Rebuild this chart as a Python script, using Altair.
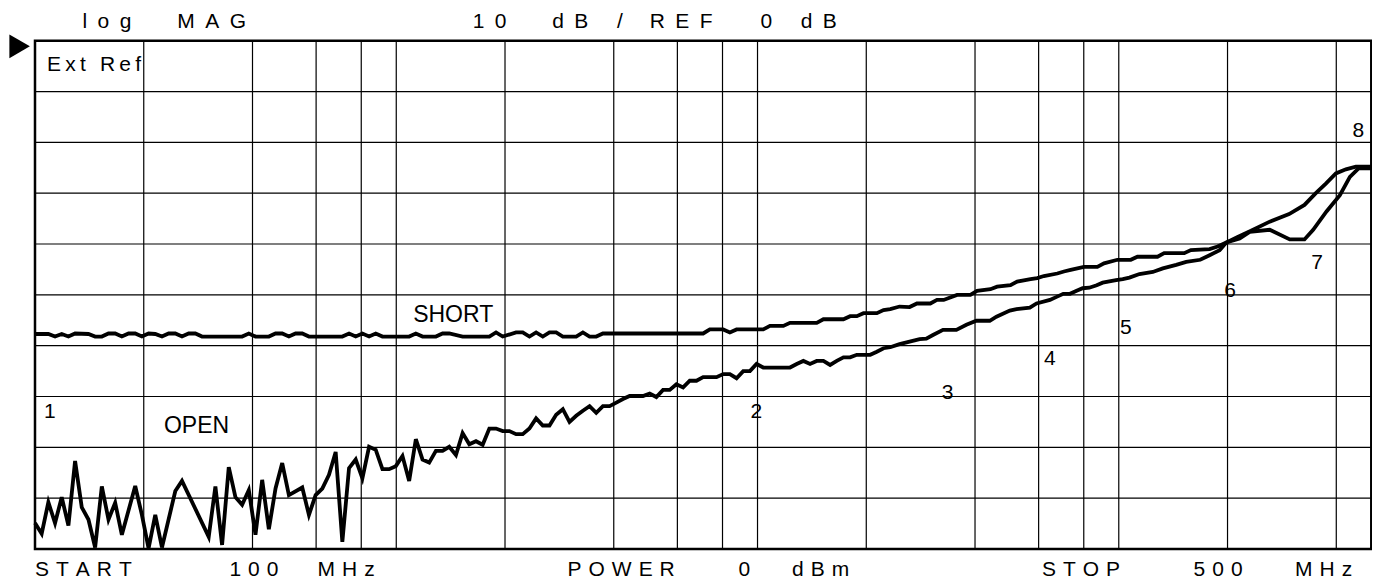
import altair as alt
import pandas as pd

# ---------------- data (sweep point index 0..200, magnitude in dB) ----------------
OPEN_IDX = [0, 1, 2, 3, 4, 5, 6, 7, 8, 9, 10, 11, 12, 13, 15, 16, 17, 18, 19, 21, 22, 26, 27, 28, 29,
            30, 31, 32, 33, 34, 35, 36, 37, 38, 40, 41, 42, 43, 44, 45, 46, 47, 48, 49, 50, 51, 52, 53,
            54, 55, 56, 57, 58, 59, 60, 61, 62, 63, 64, 65, 66, 67, 68, 69, 70, 71, 72, 73, 74, 75, 76,
            77, 78, 79, 80, 81, 82, 83, 84, 85, 86, 87, 88, 89, 90, 91, 92, 93, 94, 95, 96, 97, 98, 99,
            100, 102, 103, 104, 105, 106, 107, 108, 109, 113, 114, 115, 116, 117, 118, 119, 120, 121,
            122, 123, 125, 126, 127, 128, 129.4, 130.9, 132.4, 133.4, 134.4, 135.9, 137.9, 139.4, 140.9,
            142.9, 143.9, 145.9, 146.9, 148.9, 149.9, 151.9, 152.9, 153.9, 154.9, 155.9, 156.8, 157.8,
            158.9, 159.8, 161.8, 162.8, 163.8, 165.3, 167.3, 168.8, 170.8, 172.3, 174.4, 175.8, 177.3,
            178.3, 180.0, 182.0, 184.8, 187.7, 190.0, 191.7, 193.2, 194.7, 196.2, 197.7, 200]
OPEN_DB = [-94.9, -97.0, -90.8, -94.9, -89.8, -95.4, -82.7, -91.8, -94.2, -99.7, -87.7, -94.2, -90.9,
           -97.2, -87.6, -93.3, -99.9, -93.3, -99.7, -88.6, -86.6, -97.6, -87.7, -99.2, -83.9, -89.8,
           -91.3, -88.4, -97.2, -86.4, -96.1, -88.1, -83.1, -89.4, -87.9, -93.3, -89.4, -88.1, -85.4,
           -80.9, -98.6, -84.1, -82.4, -86.1, -79.9, -80.5, -84.3, -84.3, -83.7, -81.7, -86.6, -78.4,
           -82.4, -83.0, -80.7, -80.7, -79.9, -81.5, -77.2, -79.4, -78.8, -79.5, -76.3, -76.3, -76.8,
           -76.8, -77.4, -77.4, -76.3, -74.3, -75.7, -75.7, -73.6, -72.5, -75.0, -73.8, -72.8, -71.9,
           -73.2, -71.9, -71.9, -71.2, -70.5, -69.9, -69.9, -69.9, -69.4, -70.1, -68.7, -68.7, -67.6,
           -68.2, -66.9, -66.9, -66.2, -66.2, -65.6, -65.6, -66.4, -65.0, -65.0, -63.6, -64.3, -64.3,
           -63.6, -63.0, -63.6, -63.0, -63.0, -63.8, -63.0, -62.3, -62.3, -61.8, -61.8, -61.2, -60.5,
           -60.3, -59.7, -59.2, -58.7, -58.6, -57.9, -56.9, -56.9, -55.9, -55.1, -55.1, -54.3, -53.1,
           -52.8, -52.5, -51.7, -51.0, -50.4, -49.8, -49.8, -49.2, -48.7, -48.6, -48.1, -47.6, -47.1,
           -46.9, -46.6, -45.9, -45.5, -44.8, -44.1, -43.5, -43.1, -42.2, -41.2, -39.7, -38.6, -37.4,
           -35.6, -34.1, -32.3, -30.0, -28.1, -26.1, -25.3, -24.8, -24.8]

SHORT_IDX = [0, 2, 3, 4, 5, 6, 8, 9, 10, 11, 12, 13, 14, 15, 16, 17, 18, 19, 20, 21, 22, 23, 24, 25,
             31, 32, 33, 35, 36, 37, 38, 39, 40, 41, 46, 47, 48, 49, 50, 51, 52, 56, 57, 58, 60, 61,
             62, 64, 68, 69, 70, 72, 73, 74, 75, 76, 77, 78, 79, 81, 82, 83, 84, 85, 100, 101, 103,
             104, 105, 109, 110, 112, 113, 117, 118, 121, 122, 123, 124, 126, 127, 128, 129.4, 130.9,
             132, 134, 135, 136, 138, 140, 141, 143, 144, 146, 147, 149, 150, 151, 153, 154, 155, 157,
             159, 160, 162, 164, 165, 168, 169, 172, 173, 175.8, 177, 178.3, 180.3, 181.8, 184.8,
             187.8, 190, 191.3, 193.3, 195.3, 196.8, 198.1, 200]
SHORT_DB = [-57.7, -57.7, -58.2, -57.7, -58.2, -57.6, -57.7, -58.2, -58.2, -57.6, -57.6, -58.2, -57.6,
            -57.6, -58.2, -57.6, -57.7, -58.2, -57.6, -57.6, -58.2, -57.6, -57.6, -58.2, -58.2, -57.6,
            -58.2, -58.2, -57.6, -57.6, -58.2, -57.6, -57.6, -58.2, -58.2, -57.6, -58.2, -57.6, -58.2,
            -57.6, -58.2, -58.2, -57.6, -58.2, -58.2, -57.6, -57.6, -58.2, -58.2, -57.4, -58.2, -57.4,
            -57.4, -58.2, -57.4, -58.2, -57.4, -57.4, -58.2, -58.2, -57.4, -58.2, -58.2, -57.6, -57.6,
            -56.8, -56.8, -57.4, -56.8, -56.8, -56.1, -56.1, -55.5, -55.5, -54.8, -54.8, -54.2, -54.2,
            -53.6, -53.6, -53.0, -52.8, -52.3, -52.4, -51.7, -51.7, -51.0, -51.0, -50.0, -50.0, -49.2,
            -48.9, -48.4, -48.1, -47.4, -46.9, -46.7, -46.3, -45.8, -45.4, -45.1, -44.5, -44.5, -43.8,
            -43.1, -43.1, -42.5, -42.5, -41.8, -41.8, -41.2, -41.0, -40.5, -39.7, -38.9, -37.6, -37.2,
            -39.1, -39.1, -37.2, -33.6, -30.4, -26.8, -25.1, -25.1]

# grid: log frequency divisions and 10 dB/div
GRID_FREQ = [2, 4, 6, 8, 10, 20, 40, 60, 80, 100, 200, 400, 600, 800, 1000, 2000, 4000]
GRID_DB = [-10, -20, -30, -40, -50, -60, -70, -80, -90]

# annotations (x in sweep points, y in dB)
EN, TPE, THIN = "\u2002", "\u2004", "\u2009"
HEADER_TEXT = ["l" + EN + "o" + EN + "g", "M" + EN + "A" + EN + "G", "1" + EN + "0", "d" + EN + "B",
               "/", "R" + EN + "E" + EN + "F", "0", "d" + EN + "B"]
HEADER_X = [7.1, 21.3, 65.5, 77.4, 87.1, 92.0, 108.6, 114.6]
FOOTER_TEXT = [TPE.join("START"), TPE.join("100"), TPE.join("MHz"), TPE.join("POWER"), "0",
               TPE.join("dBm"), TPE.join("STOP"), TPE.join("500"), TPE.join("MHz")]
FOOTER_X = [0.0, 29.1, 42.3, 79.7, 105.3, 113.3, 150.7, 173.4, 188.6]
LABEL_TEXT = [THIN.join("Ext") + THIN + " " + THIN + THIN.join("Ref"), "OPEN", "SHORT",
              "1", "2", "3", "4", "5", "6", "7", "8"]
LABEL_X = [1.8, 19.3, 56.6, 1.35, 107.1, 135.7, 151.0, 162.4, 178.0, 191.0, 197.2]
LABEL_Y = [-6.0, -77.1, -55.3, -74.2, -74.2, -70.5, -63.8, -57.7, -50.5, -45.0, -18.9]
LABEL_SIZE = [21, 23, 23, 21, 21, 21, 21, 21, 21, 21, 21]
HEADER_Y, FOOTER_Y, TEXT_SIZE = 2.5, -105.3, 21
REF_ARROW = {"x": [-2.3], "y": [-1.1]}

FONT = "Liberation Sans, Arial, Helvetica, sans-serif"

# ---------------- tables ----------------
traces = pd.DataFrame({
    "idx": OPEN_IDX + SHORT_IDX,
    "db": OPEN_DB + SHORT_DB,
    "trace": ["OPEN"] * len(OPEN_IDX) + ["SHORT"] * len(SHORT_IDX),
})
ann = pd.DataFrame({
    "x": HEADER_X + FOOTER_X + LABEL_X,
    "y": [HEADER_Y] * len(HEADER_X) + [FOOTER_Y] * len(FOOTER_X) + LABEL_Y,
    "t": HEADER_TEXT + FOOTER_TEXT + LABEL_TEXT,
    "s": [TEXT_SIZE] * (len(HEADER_X) + len(FOOTER_X)) + LABEL_SIZE,
})

yscale = alt.Scale(domain=[-100, 0], nice=False, zero=False)
xlin = alt.Scale(domain=[0, 200], nice=False, zero=False)

xgrid = alt.Chart(pd.DataFrame({"f": GRID_FREQ})).mark_rule(color="black", strokeWidth=1.2).encode(
    x=alt.X("f:Q", scale=alt.Scale(type="log", domain=[1, 5000], nice=False), axis=None)
)
ygrid = alt.Chart(pd.DataFrame({"db": GRID_DB})).mark_rule(color="black", strokeWidth=1.2).encode(
    y=alt.Y("db:Q", scale=yscale, axis=None)
)
lines = alt.Chart(traces).mark_line(color="black", strokeWidth=3.8, strokeJoin="miter").encode(
    x=alt.X("idx:Q", scale=xlin, axis=None),
    y=alt.Y("db:Q", scale=yscale, axis=None),
    detail="trace:N",
    order="idx:Q",
)
texts = alt.Chart(ann).mark_text(align="left", baseline="alphabetic", font=FONT, color="black").encode(
    x=alt.X("x:Q", scale=xlin, axis=None),
    y=alt.Y("y:Q", scale=yscale, axis=None),
    text="t:N",
    size=alt.Size("s:Q", scale=None, legend=None),
)
arrow = alt.Chart(pd.DataFrame(REF_ARROW)).mark_point(
    shape="triangle-right", filled=True, color="black", size=560, opacity=1
).encode(
    x=alt.X("x:Q", scale=xlin, axis=None),
    y=alt.Y("y:Q", scale=yscale, axis=None),
)

chart = alt.layer(xgrid, ygrid, lines, texts, arrow).resolve_scale(x="independent").properties(
    width=1336.3,
    height=508.3,
    autosize=alt.AutoSizeParams(type="none"),
    padding={"left": 27, "top": 32.7, "right": 0.4, "bottom": 32},
    background="white",
).configure_view(stroke="black", strokeWidth=2.5)

chart.save("out.html", embed_options={"renderer": "svg", "actions": False})
